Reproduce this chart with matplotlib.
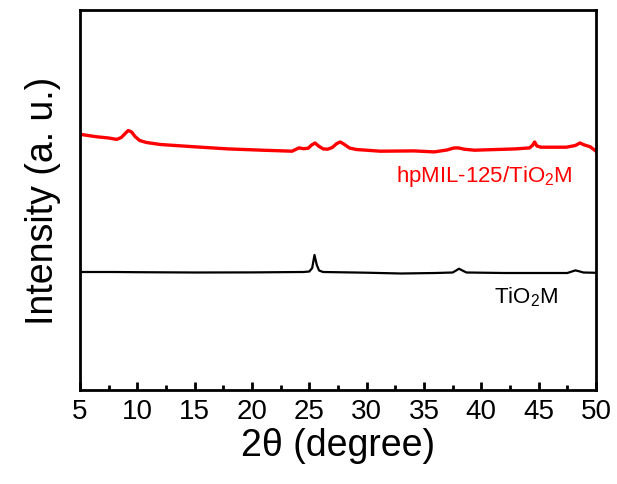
import matplotlib
matplotlib.use("Agg")
import matplotlib.pyplot as plt
from matplotlib.ticker import MultipleLocator, NullLocator

plt.rcParams['font.family'] = ['Liberation Sans', 'DejaVu Sans']
plt.rcParams['mathtext.fontset'] = 'custom'
plt.rcParams['mathtext.rm'] = 'Liberation Sans'

# XRD pattern of hpMIL-125/TiO2M (offset trace)
theta_comp = [5.0, 6.4, 7.5, 8.2, 8.6, 8.9, 9.2, 9.5, 9.8, 10.2, 10.8, 12.0, 15.0,
              17.9, 20.9, 23.5, 23.8, 24.1, 24.5, 24.9, 25.2, 25.5, 25.8, 26.2,
              26.6, 27.0, 27.4, 27.7, 28.0, 28.5, 29.1, 31.2, 34.1, 35.9, 37.0,
              37.6, 38.0, 38.5, 39.4, 43.0, 44.2, 44.45, 44.65, 44.85, 45.2, 47.4,
              48.2, 48.6, 49.0, 49.5, 50.0]
int_comp = [255.7, 253.3, 252.0, 250.6, 252.5, 256.0, 259.5, 258.0, 253.5, 249.5,
            247.5, 245.5, 243.2, 241.1, 239.8, 238.8, 240.5, 242.1, 241.3, 241.8,
            245.0, 247.0, 244.0, 241.1, 240.8, 242.5, 246.5, 248.0, 246.0, 242.0,
            240.5, 238.8, 239.1, 238.1, 240.0, 242.0, 242.1, 240.8, 239.8, 241.1,
            242.1, 244.5, 248.0, 244.0, 242.8, 242.8, 244.5, 247.0, 245.0, 243.2,
            238.8]

# XRD pattern of TiO2M
theta_tio2 = [5.0, 8.0, 10.0, 15.0, 20.0, 24.5, 25.0, 25.25, 25.45, 25.65, 25.85,
              26.2, 30.0, 33.0, 36.0, 37.5, 37.8, 38.05, 38.35, 38.7, 42.0, 47.5,
              47.9, 48.2, 48.5, 48.9, 50.0]
int_tio2 = [118.0, 118.0, 117.8, 117.5, 117.6, 118.0, 118.5, 122.0, 135.0, 125.0,
            119.5, 118.0, 117.3, 116.5, 117.0, 117.5, 119.5, 121.3, 119.5, 117.5,
            117.0, 117.0, 118.5, 119.6, 118.8, 117.5, 117.2]

x_ticks = [5, 10, 15, 20, 25, 30, 35, 40, 45, 50]

fig = plt.figure(figsize=(6.17, 4.85), dpi=100)
ax = fig.add_axes([80 / 617, 94 / 485, 516 / 617, 380 / 485])

ax.plot(theta_comp, int_comp, color='#ff0000', lw=2.4, solid_joinstyle='round')
ax.plot(theta_tio2, int_tio2, color='black', lw=1.6, solid_joinstyle='round')

ax.set_xlim(5, 50)
ax.set_ylim(0, 380)
ax.set_xticks(x_ticks)
ax.xaxis.set_minor_locator(MultipleLocator(2.5))
ax.yaxis.set_major_locator(NullLocator())
ax.tick_params(axis='x', which='major', direction='in', length=6, width=2,
               labelsize=20, pad=6)
ax.tick_params(axis='x', which='minor', direction='in', length=3.5, width=2)
for s in ax.spines.values():
    s.set_linewidth(2)

ax.set_xlabel('2θ (degree)', fontsize=27, labelpad=2)
ax.set_ylabel('Intensity (a. u.)', fontsize=27, labelpad=14)

ax.text(48.0, 209, r'hpMIL-125/TiO$_2$M', color='#ff0000', fontsize=16,
        ha='right', va='baseline')
ax.text(46.7, 88, r'TiO$_2$M', color='black', fontsize=16,
        ha='right', va='baseline')

fig.savefig('out.png', dpi=100)
